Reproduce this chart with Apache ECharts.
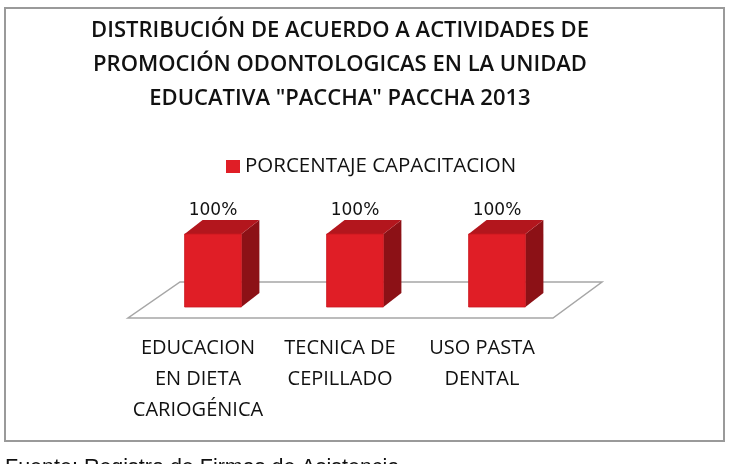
<!DOCTYPE html>
<html>
<head>
<meta charset="utf-8">
<script src="https://cdn.jsdelivr.net/npm/echarts@6/dist/echarts.min.js"></script>
<style>
  html, body { margin: 0; padding: 0; background: #fff; }
  #main { width: 734px; height: 464px; }
</style>
</head>
<body>
<div id="main"></div>
<script>
// datos del grafico
var titulo = 'DISTRIBUCIÓN DE ACUERDO A ACTIVIDADES DE\nPROMOCIÓN ODONTOLOGICAS EN LA UNIDAD\nEDUCATIVA "PACCHA" PACCHA 2013';
var serieNombre = 'PORCENTAJE CAPACITACION';
var categorias = ['EDUCACION\nEN DIETA\nCARIOGÉNICA', 'TECNICA DE\nCEPILLADO', 'USO PASTA\nDENTAL'];
var porcentajes = [100, 100, 100];
var fuente = 'Fuente: Registro de Firmas de Asistencia';

var myChart = echarts.init(document.getElementById('main'));

// piso en perspectiva (detras de las barras)
function renderPiso(params, api) {
    var cs = params.coordSys;
    var x0 = cs.x, x1 = cs.x + cs.width, yb = cs.y + cs.height;
    return {
        type: 'polygon',
        shape: { points: [[x0 - 14, yb + 11], [x1 - 15, yb + 11], [x1 + 34, yb - 25], [x0 + 38, yb - 25]] },
        style: { fill: '#fff', stroke: '#a6a6a6', lineWidth: 1.5 }
    };
}

// barra 3D: frente, arriba y costado
function renderBarra(params, api) {
    var top = api.coord([api.value(0), api.value(1)]);
    var base = api.coord([api.value(0), 0]);
    var w = api.size([1, 0])[0] * 0.40;
    var dx = 18, dy = -14;
    var xl = top[0] - w / 2, xr = top[0] + w / 2;
    return {
        type: 'group',
        children: [
            { type: 'polygon', shape: { points: [[xr, top[1]], [xr + dx, top[1] + dy], [xr + dx, base[1] + dy], [xr, base[1]]] },
              style: { fill: '#8c1116' } },
            { type: 'polygon', shape: { points: [[xl, top[1]], [xl + dx, top[1] + dy], [xr + dx, top[1] + dy], [xr, top[1]]] },
              style: { fill: '#b3161d' } },
            { type: 'rect', shape: { x: xl, y: top[1], width: w, height: base[1] - top[1] },
              style: { fill: '#e01e26', stroke: '#c9171e', lineWidth: 0.8 } },
            { type: 'text', x: top[0], y: top[1] - 23,
              style: { text: api.value(1) + '%', textAlign: 'center', textVerticalAlign: 'middle',
                       fontFamily: 'DejaVu Sans', fontSize: 17, fill: '#111' } }
        ]
    };
}

var option = {
    animation: false,
    graphic: [
        { type: 'rect', shape: { x: 5, y: 8, width: 719, height: 433 },
          style: { fill: 'none', stroke: '#9a9a9a', lineWidth: 2 } },
        { type: 'text', x: 340, y: 14,
          style: { text: titulo, textAlign: 'center', textVerticalAlign: 'top', lineHeight: 34,
                   fontFamily: 'Open Sans', fontWeight: 600, fontSize: 22, fill: '#111' } },
        { type: 'text', x: 5, y: 468,
          style: { text: fuente, textAlign: 'left', textVerticalAlign: 'middle',
                   fontFamily: 'Liberation Sans', fontSize: 21.5, fill: '#111' } }
    ],
    legend: {
        data: [serieNombre],
        left: 221, top: 151,
        icon: 'rect', itemWidth: 14, itemHeight: 13,
        textStyle: { fontFamily: 'Open Sans', fontSize: 20.5, lineHeight: 20, color: '#111' }
    },
    grid: { left: 142, right: 166, top: 234, bottom: 157 },
    xAxis: {
        type: 'category',
        data: categorias,
        axisLine: { show: false },
        axisTick: { show: false },
        axisLabel: {
            interval: 0, margin: 26, padding: [0, 30, 0, 0],
            fontFamily: 'Open Sans', fontSize: 20, lineHeight: 31, color: '#111'
        }
    },
    yAxis: { type: 'value', min: 0, max: 100, show: false },
    series: [
        { type: 'custom', name: 'piso', renderItem: renderPiso, data: [[0, 0]], z: 1, silent: true },
        { type: 'custom', name: serieNombre, renderItem: renderBarra, z: 2,
          itemStyle: { color: '#e01e26' },
          encode: { x: 0, y: 1 },
          data: categorias.map(function (c, i) { return [i, porcentajes[i]]; }) }
    ]
};

myChart.setOption(option);
</script>
</body>
</html>
